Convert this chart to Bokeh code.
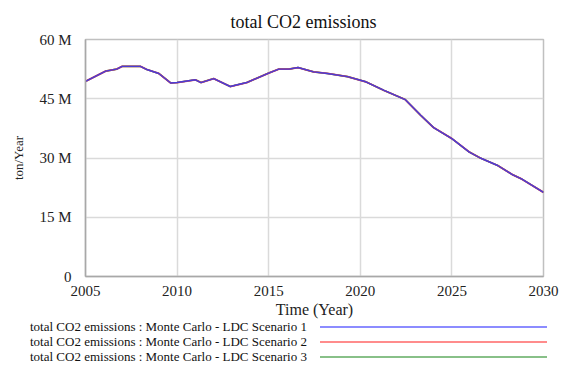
from bokeh.plotting import figure
from bokeh.models import FixedTicker, Range1d, Div
from bokeh.layouts import column
from bokeh.embed import file_html
from bokeh.resources import INLINE

# ---- data ----
years = [2005.0, 2006.1, 2006.7, 2007.0, 2008.0, 2008.35, 2009.0, 2009.65, 2010.0,
         2011.0, 2011.3, 2012.0, 2012.9, 2013.8, 2015.0, 2015.55, 2016.1, 2016.6,
         2017.45, 2018.2, 2019.3, 2020.3, 2021.3, 2022.45, 2023.3, 2024.0, 2025.0,
         2025.95, 2026.55, 2027.5, 2028.3, 2028.8, 2030.0]
scenario_1 = [49.4e6, 52.0e6, 52.5e6, 53.2e6, 53.2e6, 52.4e6, 51.4e6, 49.0e6, 49.1e6,
              49.8e6, 49.1e6, 50.1e6, 48.1e6, 49.1e6, 51.5e6, 52.5e6, 52.5e6, 52.9e6,
              51.8e6, 51.4e6, 50.6e6, 49.3e6, 47.1e6, 44.8e6, 40.8e6, 37.7e6, 34.9e6,
              31.5e6, 30.0e6, 28.1e6, 25.8e6, 24.7e6, 21.3e6]
scenario_2 = list(scenario_1)
scenario_3 = list(scenario_1)
series_names = ["total CO2 emissions : Monte Carlo - LDC Scenario 1",
                "total CO2 emissions : Monte Carlo - LDC Scenario 2",
                "total CO2 emissions : Monte Carlo - LDC Scenario 3"]
x_ticks = [2005, 2010, 2015, 2020, 2025, 2030]
y_ticks = [0, 15000000, 30000000, 45000000, 60000000]
y_tick_labels = ["0", "15 M", "30 M", "45 M", "60 M"]

FONT = "Liberation Serif"
W = 571
MAIN_H = 322
LEG_H = 368 - MAIN_H

p = figure(width=W, height=MAIN_H, output_backend="svg", toolbar_location=None,
           x_range=Range1d(2005, 2030), y_range=Range1d(0, 60e6),
           min_border_left=85, min_border_right=28, min_border_top=39,
           min_border_bottom=MAIN_H - 276, background_fill_color="white",
           border_fill_color="white")

p.title.text = "total CO2 emissions"
p.title.text_font = FONT
p.title.text_font_size = "18px"
p.title.text_font_style = "normal"
p.title.align = "left"
p.title.offset = 145
p.title.standoff = 15
p.title.text_color = "#111111"

p.outline_line_color = "#c0c0c0"
p.outline_line_width = 1.5

for ax in (p.xaxis[0], p.yaxis[0]):
    ax.major_tick_line_color = None
    ax.minor_tick_line_color = None
    ax.axis_line_color = "#a8a8a8"
    ax.axis_line_width = 1.5
    ax.major_label_text_font = FONT
    ax.major_label_text_font_size = "15px"
    ax.major_label_text_color = "#222222"
    ax.axis_label_text_font = FONT
    ax.axis_label_text_font_style = "normal"
    ax.axis_label_text_color = "#222222"

p.xaxis.ticker = FixedTicker(ticks=x_ticks)
p.yaxis.ticker = FixedTicker(ticks=y_ticks)
p.yaxis.major_label_overrides = {t: l for t, l in zip(y_ticks, y_tick_labels)}
p.xaxis.major_label_standoff = 3
p.yaxis.major_label_standoff = 8
p.xaxis.axis_label = "Time (Year)"
p.xaxis.axis_label_text_font_size = "16px"
p.xaxis.axis_label_standoff = 2
p.yaxis.axis_label = "ton/Year"
p.yaxis.axis_label_text_font_size = "13px"
p.yaxis.axis_label_standoff = 10

p.grid.grid_line_color = "#dadada"
p.grid.grid_line_width = 1.5

# lines (green, red under blue)
p.line(years, scenario_3, line_color="#3a9a3a", line_width=1.6)
p.line(years, scenario_2, line_color="#e0405a", line_width=1.8)
p.line(years, scenario_1, line_color="#4a3cd6", line_width=1.4)

# ---- legend panel below the chart: label on the left, line on the right ----
legend_colors = ["#8c8cff", "#ff8c8c", "#88c088"]
row_centers = [327 - MAIN_H, 342 - MAIN_H, 357 - MAIN_H]
rows = []
for name, col, yc in zip(series_names, legend_colors, row_centers):
    rows.append(
        f'<div style="position:absolute;left:30px;top:{yc - 8}px;height:16px;'
        f'line-height:16px;white-space:nowrap;">{name}</div>'
        f'<div style="position:absolute;left:320px;top:{yc - 1}px;width:227px;'
        f'height:2px;background:{col};"></div>'
    )
html = (f'<div style="position:relative;width:{W}px;height:{LEG_H}px;'
        f"font-family:'{FONT}';font-size:13px;color:#111111;background:white;\">"
        + "".join(rows) + "</div>")
leg = Div(text=html, width=W, height=LEG_H, margin=0)

layout = column(p, leg, spacing=0)
open("out.html", "w").write(file_html(layout, INLINE))
